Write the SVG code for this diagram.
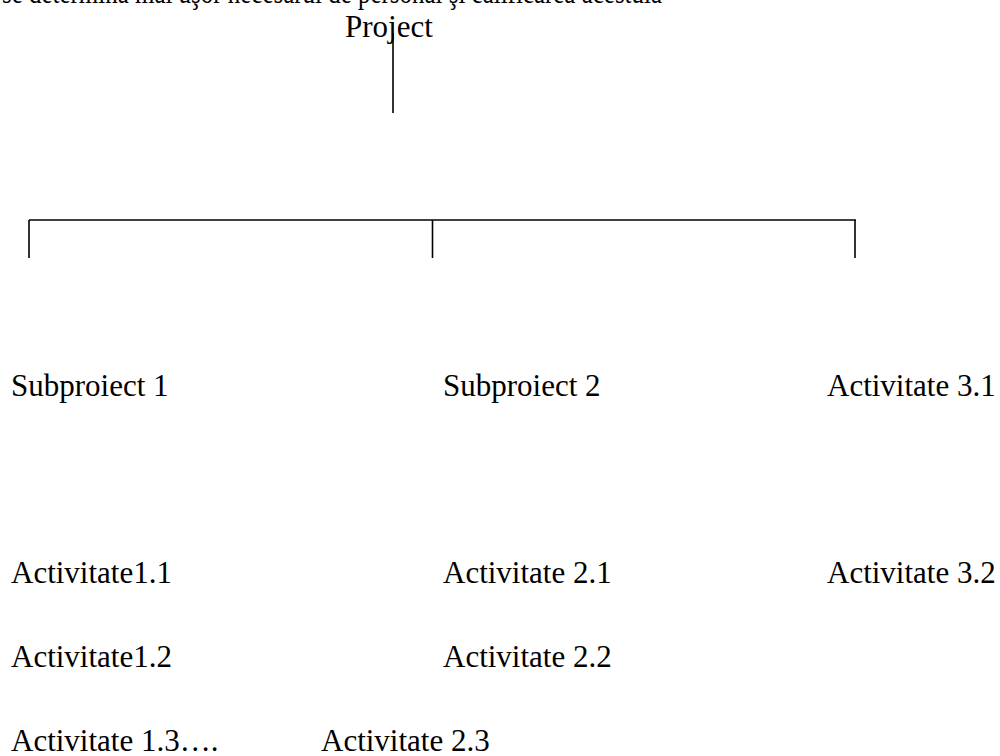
<svg xmlns="http://www.w3.org/2000/svg" width="1000" height="756" viewBox="0 0 1000 756">
<style>
text{font-family:"Liberation Serif","Times New Roman",serif;font-size:31px;fill:#000}
.ln{stroke:#000;stroke-width:1.6;fill:none}
</style>
<rect width="1000" height="756" fill="#fff"/>
<text x="2" y="3" font-size="28" textLength="660" lengthAdjust="spacingAndGlyphs">se determina mai uşor necesarul de personal şi calificarea acestuia</text>
<g id="connectors">
<line class="ln" x1="393" y1="33" x2="393" y2="113"/>
<line class="ln" x1="29" y1="220" x2="856" y2="220"/>
<line class="ln" x1="29" y1="220" x2="29" y2="258"/>
<line class="ln" x1="432.5" y1="220" x2="432.5" y2="258"/>
<line class="ln" x1="855" y1="220" x2="855" y2="258"/>
</g>
<g id="project"><text x="345" y="37">Project</text></g>
<g id="sub1"><text x="11" y="396">Subproiect 1</text></g>
<g id="sub2"><text x="443" y="396">Subproiect 2</text></g>
<g id="act31"><text x="827" y="396">Activitate 3.1</text></g>
<g id="act11"><text x="11" y="583">Activitate1.1</text></g>
<g id="act21"><text x="443" y="583">Activitate 2.1</text></g>
<g id="act32"><text x="827" y="583">Activitate 3.2</text></g>
<g id="act12"><text x="11" y="667">Activitate1.2</text></g>
<g id="act22"><text x="443" y="667">Activitate 2.2</text></g>
<g id="act13"><text x="11" y="751" font-size="30">Activitate 1.3….</text></g>
<g id="act23"><text x="321" y="751">Activitate 2.3</text></g>
</svg>
